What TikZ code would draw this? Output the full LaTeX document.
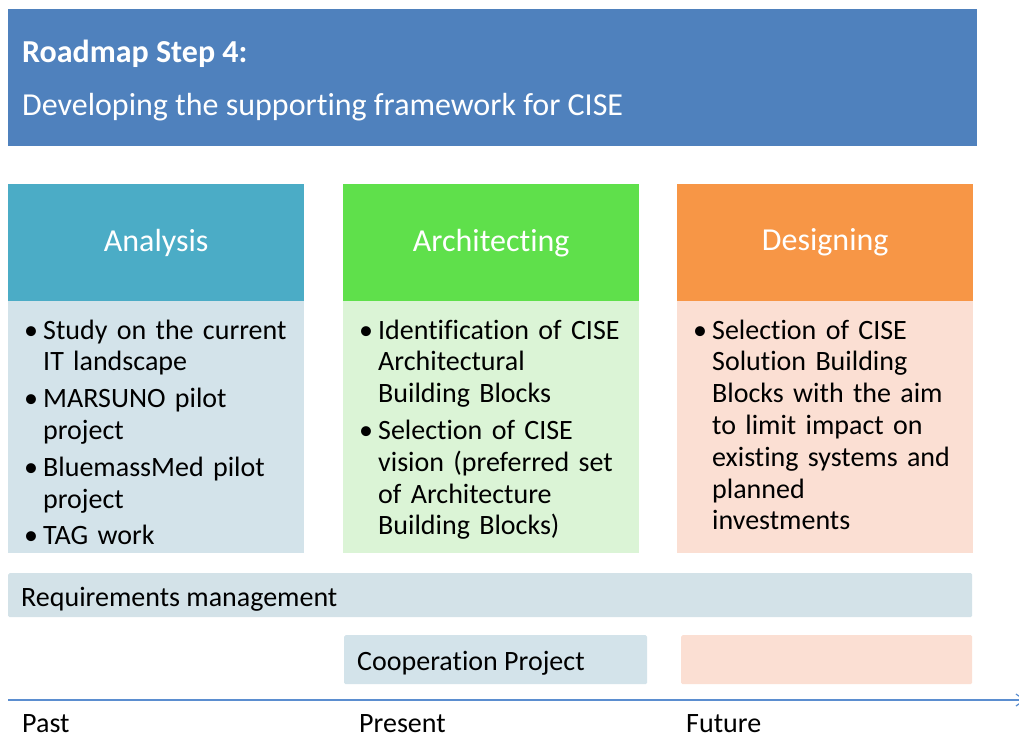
\documentclass[tikz,border=0pt]{standalone}
\usepackage{fontspec}
\setmainfont{Carlito}[Ligatures=NoCommon]
\usetikzlibrary{positioning,arrows.meta}

\definecolor{titleblue}{HTML}{4F81BD}
\definecolor{anahead}{HTML}{4BACC6}
\definecolor{anabody}{HTML}{D3E3EA}
\definecolor{archhead}{HTML}{5FE04B}
\definecolor{archbody}{HTML}{DBF4D6}
\definecolor{deshead}{HTML}{F79646}
\definecolor{desbody}{HTML}{FBDFD3}
\definecolor{reqbar}{HTML}{D3E2E8}
\definecolor{lineblue}{HTML}{5B8ED0}

\newcommand{\bul}[1]{\par\hangindent=19pt\hangafter=1\noindent
  \makebox[19pt][l]{\textbullet}#1\par\vspace{5pt}}

\tikzset{
  head/.style={anchor=north west, inner sep=0pt, minimum width=296pt,
    minimum height=117pt, text=white, font=\fontsize{32}{38}\selectfont},
  panel/.style={anchor=north west, inner sep=0pt, minimum width=296pt,
    minimum height=252pt},
  bullets/.style={inner sep=0pt, text width=280pt, align=left,
    font=\fontsize{28}{31.8}\selectfont},
  bar/.style={anchor=north west, inner sep=0pt, rounded corners=1.5pt},
  txt/.style={anchor=base west, inner sep=0pt, font=\fontsize{28}{32}\selectfont},
}

\begin{document}
\begin{tikzpicture}[x=1pt,y=-1pt]
\useasboundingbox (0,0) rectangle (1019,737);

%Title
\node[anchor=north west, inner sep=0pt, fill=titleblue,
  minimum width=969pt, minimum height=137pt
] (title) at (8,9){};
\node[anchor=base west, inner sep=0pt, text=white,
  font=\fontsize{32}{36}\selectfont\bfseries
] (step) at (22,62){Roadmap Step 4:};
\node[anchor=base west, inner sep=0pt, text=white,
  font=\fontsize{32}{36}\selectfont
] (subtitle) at (22,115){Developing the supporting framework for CISE};

%Analysis
\node[head, fill=anahead] (ana) at (8,184){Analysis};
\node[panel, fill=anabody] (anapanel) at (8,301){};
\node[bullets, below right=6pt and 16pt of anapanel.north west, anchor=north west] (anatext){%
  \bul{Study on the current\newline IT landscape}%
  \bul{MARSUNO pilot\newline project}%
  \bul{BluemassMed pilot\newline project}%
  \bul{TAG work}};

%Architecting
\node[head, fill=archhead] (arch) at (343,184){Architecting};
\node[panel, fill=archbody] (archpanel) at (343,301){};
\node[bullets, below right=6pt and 16pt of archpanel.north west, anchor=north west] (archtext){%
  \bul{Identification of CISE\newline Architectural\newline Building Blocks}%
  \bul{Selection of CISE\newline vision (preferred set\newline of Architecture\newline Building Blocks)}};

%Designing
\node[head, fill=deshead] (des) at (677,184){Designing};
\node[panel, fill=desbody] (despanel) at (677,301){};
\node[bullets, below right=6pt and 16pt of despanel.north west, anchor=north west] (destext){%
  \bul{Selection of CISE\newline Solution Building\newline Blocks with the aim\newline to limit impact on\newline existing systems and\newline planned\newline investments}};

%Requirements
\node[bar, fill=reqbar, minimum width=964pt, minimum height=44pt] (req) at (8,573){};
\node[txt] (reqtext) at (21,606){Requirements management};

%Cooperation
\node[bar, fill=anabody, minimum width=303pt, minimum height=49pt] (coop) at (344,635){};
\node[txt] (cooptext) at (357,670){Cooperation Project};

\node[bar, fill=desbody, minimum width=291pt, minimum height=49pt] (future) at (681,635){};

%Timeline
\coordinate (tstart) at (8,700);
\coordinate (tend) at (1026,700);
\draw[lineblue, line width=1.2pt, -{Straight Barb[length=9pt,width=12pt]}] (tstart) -- (tend);

\node[txt] (past) at (22,732){Past};
\node[txt] (present) at (359,732){Present};
\node[txt] (futuretext) at (686,732){Future};

\end{tikzpicture}
\end{document}
